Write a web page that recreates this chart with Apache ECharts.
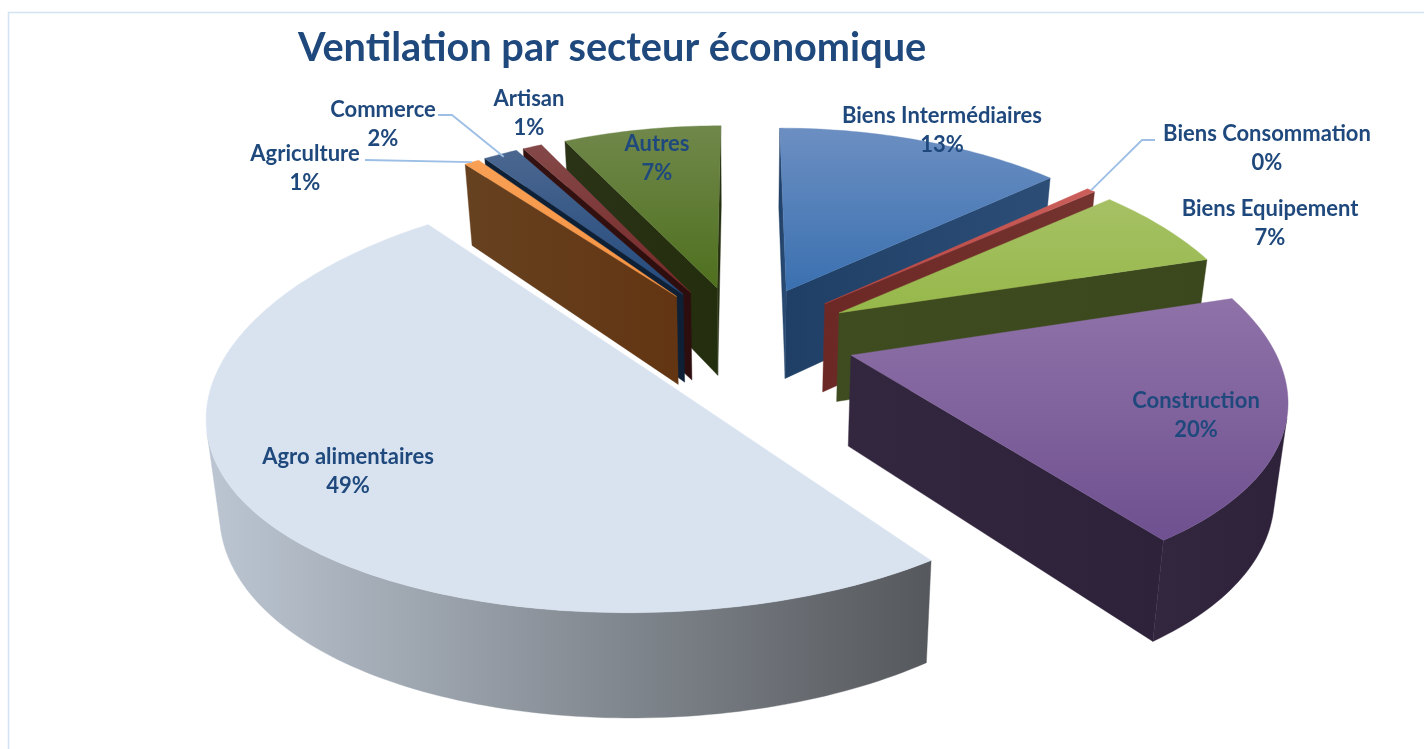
<!DOCTYPE html>
<html><head><meta charset="utf-8">
<style>html,body{margin:0;padding:0;background:#fff}#c{width:1424px;height:749px}</style>
<script src="https://cdn.jsdelivr.net/npm/echarts@6/dist/echarts.min.js"></script>
</head><body><div id="c"></div>
<script>
const titleText = 'Ventilation par secteur économique';
const categories = ['Biens Intermédiaires','Biens Consommation','Biens Equipement','Construction','Agro alimentaires','Agriculture','Commerce','Artisan','Autres'];
const values = [13.4,0.4,6.5,19.7,49.4,0.7,1.6,0.9,7.4];
const shownPct = ['13%','0%','7%','20%','49%','1%','2%','1%','7%'];
const topColors = [['#6c8fc2','#3a70b0'],['#cb5f5b','#b9443f'],['#a6c165','#96b84a'],['#8f72a8','#6f5090'],['#d9e3f0','#d9e3f0'],['#f8a055','#f79240'],['#4b6790','#234a7c'],['#844848','#782828'],['#70884b','#4f701e']];
const wallColors = [['#1f3f66','#2c4d76'],['#6c2825','#74332f'],['#3e4c20','#3b481d'],['#33263f','#2e223b'],['#bcc6d2','#55585c'],['#664120','#633512'],['#0d2036','#0d2036'],['#351212','#2d0d0d'],['#2b3316','#232e0e']];
const labelAnchors = [[942,130],[1267,148],[1270,223],[1196,415],[348,471],[305,168],[383,124],[529,113],[657,158]];
const leaders = {1:[[1155,140],[1142,140]],5:[[365,160]],6:[[438,115],[452,115]]};

const L = {cx:742,cy:338,R:419,kx:0.18,k:0.14,T:0.472,e:0.27,b:0.025,D:90,k2:0.17};
const total = values.reduce((a,b)=>a+b,0);
let acc = 0;
const spans = values.map(v=>{const s=acc/total*2*Math.PI;acc+=v;return [s,acc/total*2*Math.PI];});
function proj(X,Y,Z){
  const w=1+L.k*Y, wx=1+L.kx*Y, f=1-L.b*Z;
  return [L.cx+L.R*X/wx*f, L.cy-L.R*L.T*Y/w*f+Z*L.D/(1+L.k2*Y)];
}
function pt(i,r,a,Z){
  const m=(spans[i][0]+spans[i][1])/2;
  return proj(L.e*Math.sin(m)+r*Math.sin(a),L.e*Math.cos(m)+r*Math.cos(a),Z);
}
function area(p){let s=0;for(let i=0;i<p.length;i++){const q=p[(i+1)%p.length];s+=p[i][0]*q[1]-q[0]*p[i][1];}return s;}
function grad(c,horizontal){return {type:'linear',x:0,y:0,x2:horizontal?1:0,y2:horizontal?0:1,colorStops:[{offset:0,color:c[0]},{offset:1,color:c[1]}]};}
function poly(points,fill,z2){return {type:'polygon',shape:{points},style:{fill,stroke:fill,lineWidth:0.4},z2,silent:true};}

// far slices are painted first
const order = values.map((v,i)=>i).sort((a,b)=>Math.cos((spans[b][0]+spans[b][1])/2)-Math.cos((spans[a][0]+spans[a][1])/2));
const rank = {};order.forEach((i,r)=>rank[i]=r);

function renderSlice(params){
  const i=params.dataIndex,[s,t]=spans[i],n=Math.max(2,Math.ceil((t-s)/0.02));
  const base=rank[i]*10,children=[];
  const arcTop=[],arcBot=[];
  for(let j=0;j<=n;j++){const a=s+(t-s)*j/n;arcTop.push(pt(i,1,a,0));arcBot.push(pt(i,1,a,1));}
  const A=pt(i,0,0,0),Ab=pt(i,0,0,1);
  const wall=(a,b,ab,bb,z)=>{const q=[a,b,bb,ab];if(area(q)<0)children.push(poly(q,grad(wallColors[i],true),base+z));};
  wall(A,arcTop[0],Ab,arcBot[0],1);
  wall(arcTop[n],A,arcBot[n],Ab,2);
  // outer curved wall: visible run of the arc
  let run=[];
  const flush=()=>{if(run.length>1){const topPts=run.map(j=>arcTop[j]),botPts=run.map(j=>arcBot[j]).reverse();children.push(poly(topPts.concat(botPts),grad(wallColors[i],true),base+3));}run=[];};
  for(let j=0;j<n;j++){
    const q=[arcTop[j],arcTop[j+1],arcBot[j+1],arcBot[j]];
    if(area(q)<0){if(!run.length)run.push(j);run.push(j+1);}else flush();
  }
  flush();
  children.push(poly([A].concat(arcTop),grad(topColors[i],false),base+5));
  return {type:'group',children};
}
function renderLabel(params){
  const i=params.dataIndex,children=[];
  if(leaders[i]){
    const m=(spans[i][0]+spans[i][1])/2;
    children.push({type:'polyline',shape:{points:leaders[i].concat([pt(i,i===6?0.98:1,m,0)])},style:{stroke:'#9dbfe6',lineWidth:1.8,fill:null},z2:900,silent:true});
  }
  children.push({type:'text',x:labelAnchors[i][0],y:labelAnchors[i][1],z2:1000,silent:true,style:{
    text:categories[i]+'\n'+shownPct[i],fill:'#1f497d',font:'bold 22px Lato',lineHeight:29,align:'center',verticalAlign:'middle'}});
  return {type:'group',children};
}
const rows = categories.map((c,i)=>({name:c,value:[values[i]]}));
const chart = echarts.init(document.getElementById('c'),null,{renderer:'canvas'});
chart.setOption({
  animation:false,
  backgroundColor:'#fff',
  title:{text:titleText,left:293,top:23,textStyle:{color:'#1f497d',fontFamily:'Lato',fontWeight:'bold',fontSize:39.7}},
  graphic:[{type:'polyline',shape:{points:[[8.5,749],[8.5,12.5],[1424,12.5]]},style:{stroke:'#d2e3f3',lineWidth:1.5,fill:null},silent:true}],
  series:[
    {type:'custom',coordinateSystem:'none',name:'slices',renderItem:renderSlice,data:rows,z:2,silent:true,clip:false},
    {type:'custom',coordinateSystem:'none',name:'labels',renderItem:renderLabel,data:rows,z:3,silent:true,clip:false}
  ]
});
</script></body></html>
